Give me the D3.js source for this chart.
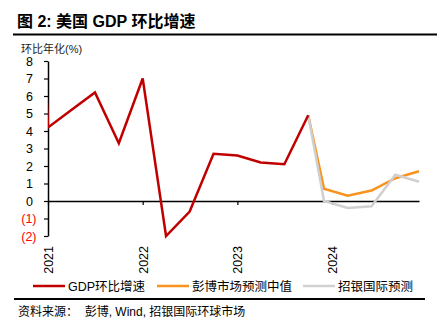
<!DOCTYPE html>
<html><head><meta charset="utf-8">
<script src="https://cdn.jsdelivr.net/npm/d3@7"></script>
<style>
body{margin:0;background:#fff;}
text{font-family:"Liberation Sans","Noto Sans CJK SC",Arial,sans-serif;}
</style></head>
<body><svg id="c" width="439" height="336"></svg>
<script>
// ---- data ----
const gdpDates = ["2020-10-01","2021-01-01","2021-04-01","2021-07-01","2021-10-01","2022-01-01","2022-04-01","2022-07-01","2022-10-01","2023-01-01","2023-04-01","2023-07-01","2023-10-01"];
const gdpValues = [35.3, 4.2, 5.2, 6.2, 3.3, 7.0, -2.0, -0.6, 2.7, 2.6, 2.2, 2.1, 4.9];
const fcDates = ["2023-10-01","2023-12-01","2024-03-01","2024-06-01","2024-09-01","2024-12-01"];
const bbgValues = [4.9, 0.7, 0.3, 0.6, 1.3, 1.7];
const cmbValues = [4.9, 0.0, -0.4, -0.3, 1.5, 1.1];
const yTicks = [-2,-1,0,1,2,3,4,5,6,7,8];
const xTickYears = ["2021","2022","2023","2024"];
const seriesNames = ["GDP环比增速","彭博市场预测中值","招银国际预测"];
const colors = ["#C00000","#F7931E","#D0D0D0"];

const parse = d3.timeParse("%Y-%m-%d");
const svg = d3.select("#c");

const x = d3.scaleTime().domain([parse("2021-01-01"), parse("2024-12-01")]).range([48, 419]);
const y = d3.scaleLinear().domain([-2, 8]).range([236, 61]);

// title
svg.append("text").attr("x",17).attr("y",27).attr("font-size",16).attr("font-weight","bold").attr("fill","#000")
  .text("图 2: 美国 GDP 环比增速");
svg.append("line").attr("x1",13).attr("x2",437).attr("y1",34.5).attr("y2",34.5).attr("stroke","#000").attr("stroke-width",2);
svg.append("text").attr("x",21).attr("y",53).attr("font-size",11).attr("fill","#222").text("环比年化(%)");

// y axis
const yAxis = svg.append("g").attr("transform","translate(48,0)")
  .call(d3.axisLeft(y).tickValues(yTicks).tickSize(4).tickSizeOuter(0).tickPadding(8)
    .tickFormat(d => d < 0 ? "(" + (-d) + ")" : String(d)));
yAxis.select(".domain").attr("stroke","#000").attr("stroke-width",1.5);
yAxis.selectAll(".tick line").attr("stroke","#000").attr("stroke-width",1.2);
yAxis.selectAll(".tick text").attr("font-size",12.5).attr("font-family",null)
  .attr("fill", d => d < 0 ? "#FF0000" : "#000")
  .attr("x", d => d < 0 ? -11.5 : -15);

// x axis (zero line with ticks)
const xAxis = svg.append("g").attr("transform",`translate(0,${y(0)})`)
  .call(d3.axisBottom(x).tickValues(xTickYears.map(d=>parse(d+"-01-01"))).tickSize(4).tickSizeOuter(0).tickFormat(""));
xAxis.select(".domain").attr("stroke","#000").attr("stroke-width",1.5);
xAxis.selectAll(".tick line").attr("stroke","#000").attr("stroke-width",1.2);

// x labels at bottom, rotated
const xLab = svg.append("g").attr("transform",`translate(0,${y(-2)+10})`)
  .call(d3.axisBottom(x).tickValues(xTickYears.map(d=>parse(d+"-01-01"))).tickSize(0).tickFormat(d3.timeFormat("%Y")));
xLab.select(".domain").remove();
xLab.selectAll(".tick text").attr("font-size",12.5).attr("font-family",null).attr("fill","#000")
  .attr("transform","rotate(-90)").attr("text-anchor","end").attr("x",0).attr("y",0).attr("dy","0.35em");

// clip
svg.append("clipPath").attr("id","plot").append("rect").attr("x",48).attr("y",0).attr("width",390).attr("height",336);

const line = d3.line().x(d=>x(d[0])).y(d=>y(d[1]));
const g = svg.append("g").attr("clip-path","url(#plot)");
function draw(dates, vals, col){
  g.append("path").datum(dates.map((d,i)=>[parse(d), vals[i]]))
    .attr("d", line).attr("fill","none").attr("stroke",col).attr("stroke-width",2.5).attr("stroke-linejoin","miter");
}
draw(fcDates, bbgValues, colors[1]);
draw(fcDates, cmbValues, colors[2]);
draw(gdpDates, gdpValues, colors[0]);

// legend
const legX = [33, 157, 303];
seriesNames.forEach((n,i)=>{
  svg.append("line").attr("x1",legX[i]).attr("x2",legX[i]+32).attr("y1",286).attr("y2",286).attr("stroke",colors[i]).attr("stroke-width",2.5);
  svg.append("text").attr("x",legX[i]+35).attr("y",290.5).attr("font-size",12.5).attr("fill","#000").text(n);
});
svg.append("line").attr("x1",14).attr("x2",425).attr("y1",299).attr("y2",299).attr("stroke","#000").attr("stroke-width",2);
svg.append("text").attr("x",18).attr("y",316).attr("font-size",12).attr("fill","#000").attr("xml:space","preserve").text("资料来源：  彭博, Wind, 招银国际环球市场");
</script></body></html>
